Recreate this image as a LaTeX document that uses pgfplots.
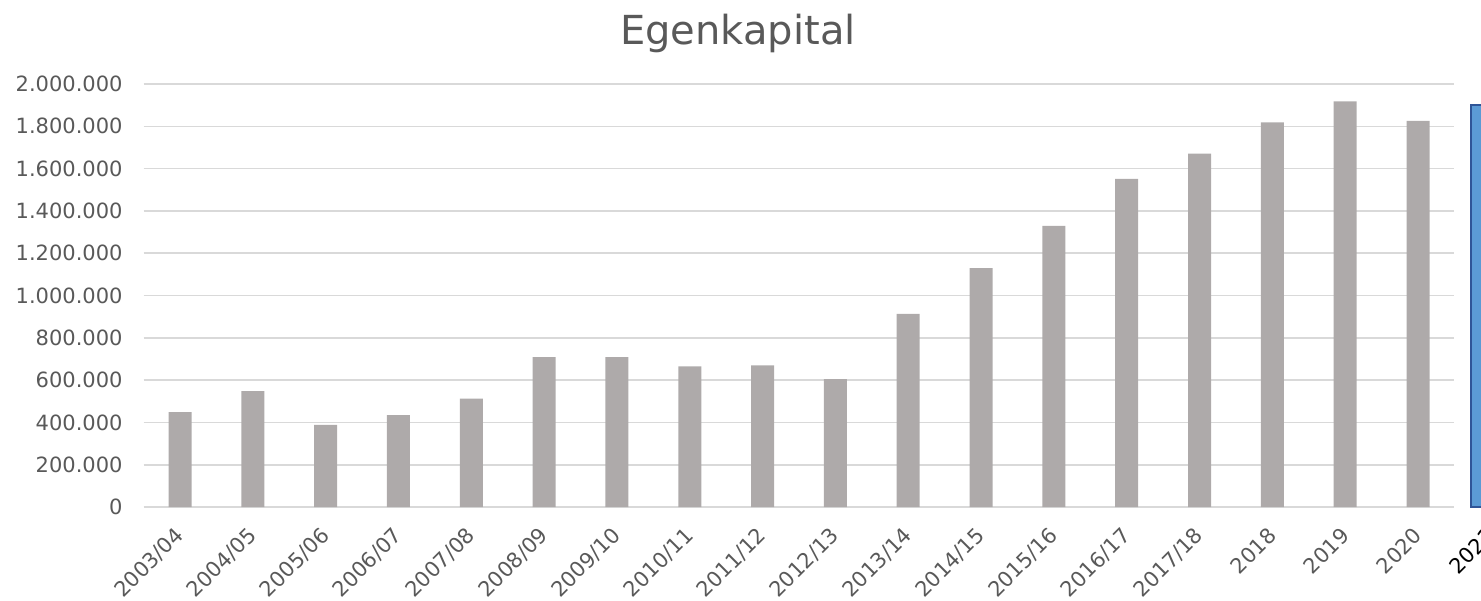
\documentclass[border=0pt]{standalone}
\usepackage{pgfplots}
\pgfplotsset{compat=1.18}
\usepackage{fontspec}
\setmainfont{DejaVu Sans}
\definecolor{bargray}{HTML}{AEAAAA}
\definecolor{gridgray}{HTML}{D9D9D9}
\definecolor{txtgray}{HTML}{595959}
\definecolor{boxblue}{HTML}{5B9BD5}
\definecolor{boxedge}{HTML}{2F5597}
\begin{document}
\begin{tikzpicture}
    \begin{axis}[
            name=ax,
            scale only axis,
            width=655.4pt,
            height=211.5pt,
            xmin=-0.5, xmax=17.5,
            ymin=0, ymax=2000000,
            xtick={0,...,17},
            xticklabels={2003/04,2004/05,2005/06,2006/07,2007/08,2008/09,2009/10,2010/11,2011/12,2012/13,2013/14,2014/15,2015/16,2016/17,2017/18,2018,2019,2020},
            ytick distance=200000,
            scaled y ticks=false,
            yticklabel style={
                    /pgf/number format/fixed,
                    /pgf/number format/1000 sep={.},
                    /pgf/number format/assume math mode=true,
                    xshift=-7pt,
                },
            ymajorgrids=true,
            grid style={gridgray, line width=0.8pt},
            axis line style={draw=none},
            major tick length=0pt,
            tick label style={text=txtgray, font=\fontsize{10.5}{12}\selectfont},
            x tick label style={xshift=2.5pt, yshift=-10pt, rotate=45, anchor=east},
            clip=false,
            axis on top=false,
        ]
        % Egenkapital per regnskabsår
        \addplot[ybar, bar width=11.5pt, bar shift=0pt, fill=bargray, draw=none] coordinates {
                (0,449000) (1,548000) (2,388000) (3,435000) (4,512000)
                (5,709000) (6,709000) (7,665000) (8,670000) (9,605000)
                (10,913000) (11,1129000) (12,1329000) (13,1551000) (14,1671000)
                (15,1818000) (16,1918000) (17,1826000)
            };
        % 2021 (skåret af i højre kant)
        \addplot[ybar, bar width=19.7pt, bar shift=0pt, fill=boxblue, draw=boxedge, line width=1pt] coordinates {
                (18,1900000)
            };
        \node[xshift=2.5pt, yshift=-10pt, rotate=45, anchor=east, font=\fontsize{10.5}{12}\selectfont, text=black] at (axis cs:18,0) {2021};
    \end{axis}
    \node[font=\fontsize{20}{24}\selectfont, text=txtgray] at ([xshift=297.2pt, yshift=237pt]ax.south west) {Egenkapital};
    \pgfresetboundingbox
    \path[use as bounding box] ([xshift=-71.8pt, yshift=-46.5pt]ax.south west) rectangle ++(740.5pt, 300pt);
\end{tikzpicture}
\end{document}
